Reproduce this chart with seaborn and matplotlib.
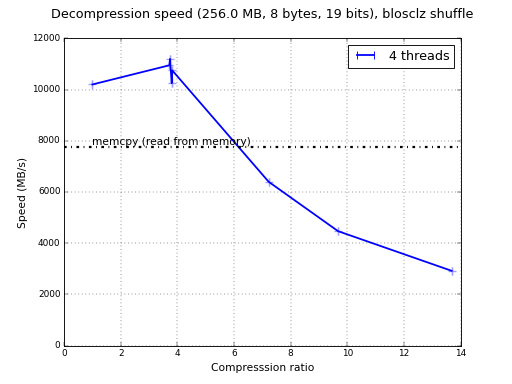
import matplotlib
matplotlib.use("Agg")
import matplotlib.pyplot as plt
import seaborn as sns
import pandas as pd
from matplotlib.lines import Line2D

ratio = [1.0, 3.72, 3.74, 3.80, 3.82, 7.22, 9.67, 13.68]
speed = [10200, 10950, 11200, 10250, 10750, 6400, 4470, 2920]
series_label = "4 threads"
memcpy_speed = 7740
memcpy_label = "memcpy (read from memory)"
title = "Decompression speed (256.0 MB, 8 bytes, 19 bits), blosclz shuffle"

sns.set_style("ticks")
plt.style.use("classic")
plt.rcParams['font.family'] = ['DejaVu Sans']

fig = plt.figure(figsize=(8, 6), dpi=64, facecolor="white")
ax = fig.add_subplot(111)
df = pd.DataFrame({"ratio": ratio, "speed": speed})

sns.lineplot(data=df, x="ratio", y="speed", sort=False, ax=ax, color="blue",
             linewidth=2, legend=False, estimator=None)
ax.errorbar(ratio, speed, yerr=[160] * len(ratio), fmt="+", color="#a0a0ff",
            ecolor="#a0a0ff", markersize=9, markeredgewidth=1.5, capsize=0,
            elinewidth=1.5, zorder=1)

ax.axhline(memcpy_speed, color="black", linestyle="-.", linewidth=2.5)
ax.text(1.0, memcpy_speed, memcpy_label, fontsize=12, va="bottom", ha="left")

ax.set_xlim(0, 14)
ax.set_ylim(0, 12000)
ax.grid(True)
ax.set_xlabel("Compresssion ratio", fontsize=12)
ax.set_ylabel("Speed (MB/s)", fontsize=12)
ax.tick_params(labelsize=10)

leg_line = Line2D([], [], color="blue", linewidth=2, marker="|", markersize=8,
                  markeredgecolor="blue", markeredgewidth=1)
ax.legend([leg_line], [series_label], loc="upper right", fontsize=14.4, numpoints=2)

fig.suptitle(title, fontsize=14.4, x=0.512)
fig.savefig("out.png", dpi=64, facecolor="white")
